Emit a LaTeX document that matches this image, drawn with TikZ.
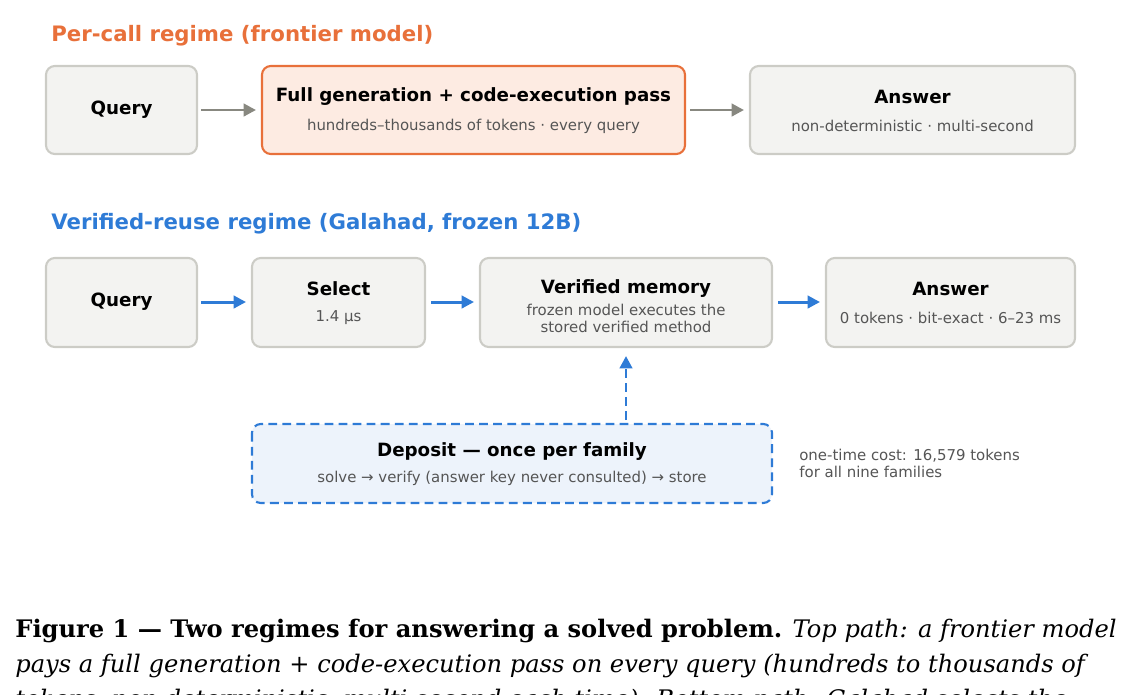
\documentclass[tikz,border=0pt]{standalone}
\usepackage{fontspec}
\setmainfont{DejaVu Sans}
\newfontfamily\capfont{DejaVu Serif}
\usetikzlibrary{arrows.meta,calc}
\definecolor{orng}{HTML}{E8703A}
\definecolor{orngfill}{HTML}{FDEBE2}
\definecolor{bblue}{HTML}{2E7BD6}
\definecolor{bluefill}{HTML}{EDF3FB}
\definecolor{gfill}{HTML}{F3F3F1}
\definecolor{gline}{HTML}{CCCCC6}
\definecolor{garrow}{HTML}{888880}
\definecolor{subtxt}{HTML}{555555}
\tikzset{
  box/.style={draw=gline,fill=gfill,line width=1.2pt,rounded corners=5pt},
  hl/.style={box,draw=orng,fill=orngfill},
  dep/.style={box,draw=bblue,fill=bluefill,dashed,dash pattern=on 5pt off 3pt},
  ttl/.style={font=\fontsize{10.4}{12}\selectfont\bfseries},
  sub/.style={font=\fontsize{8.5}{9.6}\selectfont,text=subtxt,align=center},
  garr/.style={-{Triangle[length=7pt,width=7pt]},line width=1.7pt,garrow},
  barr/.style={-{Triangle[length=7pt,width=7pt]},line width=1.7pt,bblue}
}
\begin{document}
\begin{tikzpicture}[x=0.02cm,y=-0.02cm]
	\useasboundingbox (0,0) rectangle (1133,694);
	\clip (0,0) rectangle (1133,694);

	% top regime
	\node[anchor=west,inner sep=0,orng,font=\fontsize{12.1}{13}\selectfont\bfseries] (toptitle) at (51,36) {Per-call regime (frontier model)};
	\draw[box] (46,66) rectangle (197,154);
	\node[ttl] (tq) at (121.5,110) {Query};
	\draw[hl] (262,66) rectangle (685,154);
	\node[ttl] (tg) at (473.5,97) {Full generation + code-execution pass};
	\node[sub] (tgs) at (473.5,126) {hundreds–thousands of tokens · every query};
	\draw[box] (750,66) rectangle (1075,154);
	\node[ttl] (ta) at (912.5,97) {Answer};
	\node[sub] (tas) at (912.5,126) {non-deterministic · multi-second};
	\coordinate (t1) at (201,110);
	\coordinate (t2) at (256,110);
	\coordinate (t3) at (690,110);
	\coordinate (t4) at (744,110);
	\draw[garr] (t1) -- (t2);
	\draw[garr] (t3) -- (t4);

	% bottom regime
	\node[anchor=west,inner sep=0,bblue,font=\fontsize{12.1}{13}\selectfont\bfseries] (bottitle) at (51,224) {Verified-reuse regime (Galahad, frozen 12B)};
	\draw[box] (46,258) rectangle (197,347);
	\node[ttl] (bq) at (121.5,302) {Query};
	\draw[box] (252,258) rectangle (425,347);
	\node[ttl] (bs) at (338.5,289) {Select};
	\node[sub] (bss) at (338.5,318) {1.4 µs};
	\draw[box] (480,258) rectangle (772,347);
	\node[ttl] (bm) at (626,289) {Verified memory};
	\node[sub] (bms) at (626,318) {frozen model executes the\\stored verified method};
	\draw[box] (826,258) rectangle (1075,347);
	\node[ttl] (ba) at (950.5,289) {Answer};
	\node[sub] (bas) at (950.5,318) {0 tokens · bit-exact · 6–23 ms};
	\coordinate (b1) at (201,302);
	\coordinate (b2) at (246,302);
	\coordinate (b3) at (431,302);
	\coordinate (b4) at (474,302);
	\coordinate (b5) at (778,302);
	\coordinate (b6) at (820,302);
	\draw[barr] (b1) -- (b2);
	\draw[barr] (b3) -- (b4);
	\draw[barr] (b5) -- (b6);

	% deposit
	\draw[dep] (252,424) rectangle (772,503);
	\node[ttl] (dp) at (512,452) {Deposit — once per family};
	\node[sub] (dps) at (512,478) {solve → verify (answer key never consulted) → store};
	\coordinate (d1) at (626,420);
	\coordinate (d2) at (626,356);
	\draw[barr,dash pattern=on 5pt off 3pt] (d1) -- (d2);
	\node[sub,anchor=west,align=left,inner sep=0] (cost) at (799,463) {one-time cost: 16,579 tokens\\for all nine families};

	% caption
	\node[anchor=base west,font=\capfont\fontsize{13.75}{16}\selectfont,inner sep=0] (cap1) at (15,637)
	  {\textbf{Figure 1 — Two regimes for answering a solved problem.} \textit{Top path: a frontier model}};
	\node[anchor=base west,font=\capfont\fontsize{13.75}{16}\selectfont\itshape,inner sep=0] (cap2) at (15,672)
	  {pays a full generation + code-execution pass on every query (hundreds to thousands of};
	\node[anchor=base west,font=\capfont\fontsize{13.75}{16}\selectfont\itshape,inner sep=0] (cap3) at (15,707)
	  {tokens, non-deterministic, multi-second each time). Bottom path: Galahad selects the};
\end{tikzpicture}
\end{document}
